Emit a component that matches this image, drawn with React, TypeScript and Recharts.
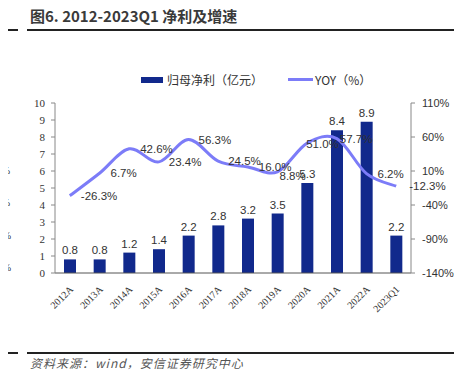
import React from "react"
import { ComposedChart, Bar, Line, XAxis, YAxis, LabelList } from "recharts"

const years = ["2012A", "2013A", "2014A", "2015A", "2016A", "2017A", "2018A", "2019A", "2020A", "2021A", "2022A", "2023Q1"]
const netProfit = [0.8, 0.8, 1.2, 1.4, 2.2, 2.8, 3.2, 3.5, 5.3, 8.4, 8.9, 2.2]
const yoy = [-26.3, 6.7, 42.6, 23.4, 56.3, 24.5, 16.0, 8.8, 51.0, 57.7, 6.2, -12.3]
const leftTicks = [0, 1, 2, 3, 4, 5, 6, 7, 8, 9, 10]
const rightTicks = [-140, -90, -40, 10, 60, 110]

// label nudges (dx, dy) for the YOY labels, as placed in the source
const labelShift = [[11, 0], [11, 0], [11, 0], [10, 0], [10, 0], [10, 0], [11, 0], [2, 4], [-1, 1], [3, 0], [11, 0], [13, 0]]

const data = years.map((y, i) => ({ year: y, profit: netProfit[i], yoy: yoy[i] }))

const BAR = "#11298c"
const LINE = "#7c7cf8"
const sans = "'Liberation Sans', Arial, sans-serif"
const serif = "'Liberation Serif', 'Times New Roman', serif"
const cjk = "'Noto Sans CJK SC', sans-serif"

// excel-like smoothing (catmull-rom through the points)
function smooth(context: any) {
  let pts: number[][] = []
  return {
    areaStart() {},
    areaEnd() {},
    lineStart() { pts = [] },
    point(x: number, y: number) { pts.push([+x, +y]) },
    lineEnd() {
      if (!pts.length) return
      context.moveTo(pts[0][0], pts[0][1])
      for (let i = 0; i < pts.length - 1; i++) {
        const p0 = pts[Math.max(i - 1, 0)], p1 = pts[i], p2 = pts[i + 1], p3 = pts[Math.min(i + 2, pts.length - 1)]
        context.bezierCurveTo(
          p1[0] + (p2[0] - p0[0]) / 6, p1[1] + (p2[1] - p0[1]) / 6,
          p2[0] - (p3[0] - p1[0]) / 6, p2[1] - (p3[1] - p1[1]) / 6,
          p2[0], p2[1]
        )
      }
    },
  }
}

function XTick({ x, y, payload }: any) {
  return (
    <text x={x + 4} y={y + 9} transform={`rotate(-45, ${x + 4}, ${y + 9})`} textAnchor="end"
      fontSize={10} fontFamily={serif} fill="#333">{payload.value}</text>
  )
}

function YoyLabel(p: any) {
  const s = labelShift[p.index] || [10, 0]
  return (
    <text x={p.x + s[0]} y={p.y + s[1]} dominantBaseline="central" fontSize={11.5}
      fontFamily={sans} fill="#333">{Number(p.value).toFixed(1)}%</text>
  )
}

const rule = (top: number) => (
  <>
    <div style={{ position: "absolute", left: 0, top, width: 18, height: 1.5, background: "#222" }} />
    <div style={{ position: "absolute", left: 27, top, width: 429, height: 1.5, background: "#222" }} />
  </>
)

// cut-off tick labels of the neighbouring chart at the left edge
const stub = [
  { t: "%", y: 107, r: 8 }, { t: "%", y: 139, r: 8 }, { t: "%", y: 172, r: 10 },
  { t: "%", y: 204, r: 10 }, { t: "0%", y: 237, r: 11 }, { t: "0%", y: 269, r: 11 },
]

export default function App() {
  return (
    <div style={{ position: "relative", width: 462, height: 382, margin: -8, overflow: "hidden", background: "#fff" }}>
      <div style={{ position: "absolute", left: 30, top: 5, fontFamily: cjk, fontWeight: 700, fontSize: 15, color: "#3a3a3a", whiteSpace: "nowrap" }}>
        图6. 2012-2023Q1 净利及增速
      </div>
      {rule(29)}

      {stub.map((s, i) => (
        <div key={i} style={{ position: "absolute", right: 462 - s.r, top: s.y - 7, fontFamily: serif, fontSize: 10, color: "#333" }}>{s.t}</div>
      ))}

      <div style={{ position: "absolute", left: 141, top: 71, display: "flex", alignItems: "center", fontFamily: cjk, fontSize: 12, color: "#333", whiteSpace: "nowrap" }}>
        <span style={{ display: "inline-block", width: 22, height: 6, background: BAR, marginRight: 4 }} />
        <span>归母净利（亿元）</span>
        <span style={{ display: "inline-block", width: 25, height: 3, background: LINE, marginLeft: 25, marginRight: 2 }} />
        <span>YOY（%）</span>
      </div>

      <div style={{ position: "absolute", left: 0, top: 0 }}>
        <ComposedChart width={462} height={382} data={data} margin={{ top: 103, right: 1, bottom: 69, left: 25 }}>
          <XAxis dataKey="year" interval={0} height={40} tick={<XTick />} tickLine={false}
            axisLine={{ stroke: "#555" }} />
          <YAxis yAxisId="left" domain={[0, 10]} ticks={leftTicks} width={30} tickSize={4} tickMargin={6}
            tick={{ fontSize: 11, fontFamily: serif, fill: "#333" }} axisLine={{ stroke: "#888" }} tickLine={{ stroke: "#888" }} />
          <YAxis yAxisId="right" orientation="right" domain={[-140, 110]} ticks={rightTicks} width={50} tickSize={4} tickMargin={7}
            tickFormatter={(v: number) => `${v}%`} tick={{ fontSize: 11, fontFamily: sans, fill: "#333", textAnchor: "start" }}
            axisLine={{ stroke: "#888" }} tickLine={{ stroke: "#888" }} />
          <Bar yAxisId="left" dataKey="profit" fill={BAR} barSize={12} isAnimationActive={false}>
            <LabelList dataKey="profit" position="top" offset={5} fontSize={11.5} fontFamily={sans} fill="#333"
              formatter={(v: any) => Number(v).toFixed(1)} />
          </Bar>
          <Line yAxisId="right" dataKey="yoy" type={smooth as any} stroke={LINE} strokeWidth={3} dot={false}
            isAnimationActive={false} label={<YoyLabel />} />
        </ComposedChart>
      </div>

      {rule(352)}
      <div style={{ position: "absolute", left: 30, top: 354, fontFamily: cjk, fontStyle: "italic", fontSize: 12, letterSpacing: 1, color: "#555", whiteSpace: "nowrap" }}>
        资料来源：wind，安信证券研究中心
      </div>
    </div>
  )
}
